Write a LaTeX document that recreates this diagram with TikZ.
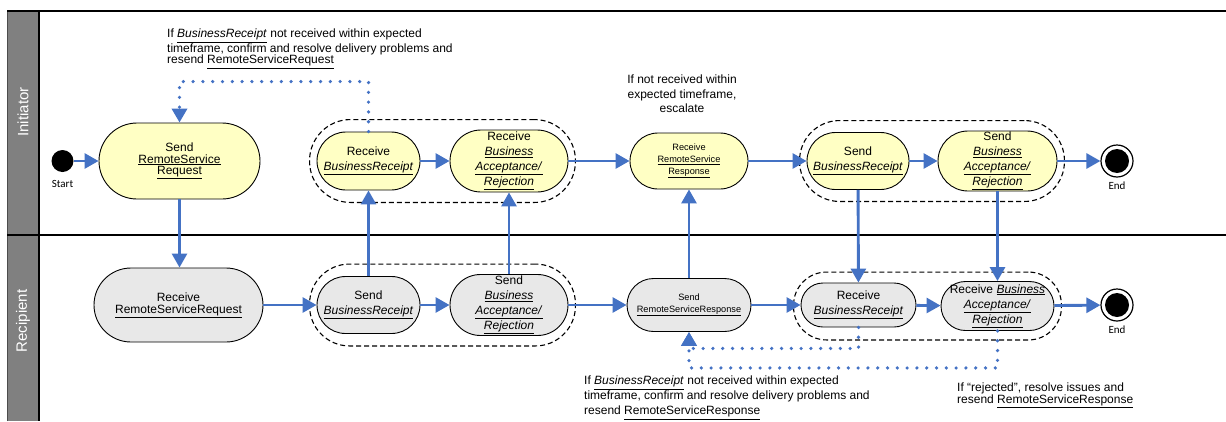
\documentclass[tikz,border=0pt]{standalone}
\usepackage{fontspec}
\setmainfont{Liberation Sans}
\newfontfamily\calfont{Carlito}
\usepackage{tikz}
\usetikzlibrary{arrows.meta}
\usetikzlibrary{fit}
\usepackage{xcolor}
\definecolor{flowblue}{HTML}{4472C4}
\definecolor{actyellow}{HTML}{FFFFC4}
\definecolor{actgray}{HTML}{E8E8E8}
\definecolor{lanegray}{HTML}{808080}
\newcommand{\actfont}{\fontsize{12}{15}\selectfont}
\newcommand{\reqfont}{\fontsize{12}{11.5}\selectfont}
\newcommand{\rspfont}{\fontsize{9.2}{12}\selectfont}
\newcommand{\ul}[1]{\underline{#1}}
\newcommand{\uli}[1]{\underline{\textit{#1}}}

\begin{document}
\begin{tikzpicture}[x=1pt, y=-1pt,
	act/.style 2 args={rectangle, draw=black, line width=0.9pt, minimum width=#1, minimum height=#2, rounded corners=#2/2, inner sep=0pt, align=center, font=\actfont},
	init/.style={fill=actyellow},
	recp/.style={fill=actgray},
	grp/.style={draw=black, line width=1.1pt, dash pattern=on 5pt off 3pt, inner xsep=7pt, inner ysep=10pt},
	flow/.style={draw=flowblue, line width=2.9pt, -{Triangle[length=14pt,width=15pt]}},
	dotflow/.style={draw=flowblue, line width=3.6pt, line cap=round, dash pattern=on 0pt off 9.8pt, -{Triangle[length=14pt,width=15pt]}},
	note/.style={align=left, inner sep=0pt, font=\fontsize{12}{11.8}\selectfont},
	lanelabel/.style={rotate=90, text=white, font=\fontsize{15}{15}\selectfont},
	tag/.style={font=\calfont\fontsize{11}{11}\selectfont, inner sep=1pt},
	startnode/.style={circle, fill=black, minimum size=22pt, inner sep=0pt},
	endnode/.style={circle, draw=black, line width=1.2pt, fill=white, minimum size=32pt, inner sep=0pt, path picture={\fill[black] (path picture bounding box.center) circle (12pt);}}]
	\useasboundingbox (0,0) rectangle (1226,421);
	\fill[lanegray] (7,11) rectangle (39,421);
	\draw[black!70, line width=1pt] (7,421) -- (7,11);
	\draw[black, line width=1.2pt] (7,11) -- (1226,11);
	\draw[black, line width=1.2pt] (7,235) -- (1226,235);
	\draw[black, line width=1.2pt] (39,11) -- (39,421);
	\node[lanelabel] (lanei) at (23,112) {Initiator};
	\node[lanelabel] (laner) at (23,321) {Recipient};

	\node[startnode, label={[tag, label distance=7pt]below:Start}] (start) at (62.5,161) {};
	\node[act={161pt}{76pt}, init, font=\reqfont] (sendreq) at (179.5,161) {Send\\\ul{RemoteService}\\\ul{Request}};
	\node[act={103pt}{58pt}, init] (rcvbr) at (368.5,161) {Receive\\\uli{BusinessReceipt}};
	\node[act={118pt}{62pt}, init] (rcvba) at (509,161) {Receive\\\uli{Business}\\\uli{Acceptance/}\\\uli{Rejection}};
	\node[act={118pt}{56pt}, init, font=\rspfont] (rcvresp) at (689,161) {Receive\\\ul{RemoteService}\\\ul{Response}};
	\node[act={102pt}{57pt}, init] (sndbr2) at (858,161) {Send\\\uli{BusinessReceipt}};
	\node[act={119pt}{60pt}, init] (sndba2) at (997.5,161) {Send\\\uli{Business}\\\uli{Acceptance/}\\\uli{Rejection}};
	\node[endnode, label={[tag, label distance=3pt]below:End}] (end1) at (1117,161) {};

	\node[act={169pt}{74pt}, recp, font=\fontsize{12}{12}\selectfont] (rcvreq) at (178.5,305) {Receive\\\ul{RemoteServiceRequest}};
	\node[act={103pt}{57pt}, recp] (sndbr) at (368.5,305) {Send\\\uli{BusinessReceipt}};
	\node[act={118pt}{61pt}, recp] (sndba) at (509,305) {Send\\\uli{Business}\\\uli{Acceptance/}\\\uli{Rejection}};
	\node[act={124pt}{53pt}, recp, font=\rspfont] (sndresp) at (689,305) {Send\\\ul{RemoteServiceResponse}};
	\node[act={115pt}{44pt}, recp] (rcvbr2) at (858.5,305) {Receive\\\uli{BusinessReceipt}};
	\node[act={113pt}{49pt}, recp] (rcvba2) at (997.5,306) {Receive \uli{Business}\\\uli{Acceptance/}\\\uli{Rejection}};
	\node[endnode, label={[tag, label distance=3pt]below:End}] (end2) at (1117,305) {};

	\node[grp, fit=(rcvbr)(rcvba), rounded corners=41pt] (grpa) {};
	\node[grp, fit=(sndbr)(sndba), rounded corners=40pt] (grpb) {};
	\node[grp, fit=(sndbr2)(sndba2), rounded corners=40pt] (grpc) {};
	\node[grp, fit=(rcvbr2)(rcvba2), inner ysep=9pt, rounded corners=33pt] (grpd) {};

	\node[note, anchor=north west] (notereq) at (167,29) {If \uli{BusinessReceipt} not received within expected\\timeframe, confirm and resolve delivery problems and\\resend \ul{RemoteServiceRequest}};
	\node[note, align=center, font=\fontsize{12}{14.5}\selectfont] (noteesc) at (682,94) {If not received within\\expected timeframe,\\escalate};
	\node[note, anchor=north west, font=\fontsize{12}{15}\selectfont] (noteresp) at (584,376) {If \uli{BusinessReceipt} not received within expected\\timeframe, confirm and resolve delivery problems and\\resend \ul{RemoteServiceResponse}};
	\node[note, anchor=north west] (noterej) at (957,383) {If ``rejected'', resolve issues and\\resend \ul{RemoteServiceResponse}};

	\draw[flow] (start) -- (sendreq);
	\draw[flow] (sendreq.south) -- (sendreq.south |- rcvreq.north);
	\draw[flow] (rcvreq) -- (sndbr);
	\draw[flow] (sndbr) -- (sndba);
	\draw[flow] (sndbr) -- (rcvbr);
	\draw[flow] (sndba) -- (rcvba);
	\draw[flow] (rcvbr) -- (rcvba);
	\draw[flow] (rcvba) -- (rcvresp);
	\draw[flow] (sndba) -- (sndresp);
	\draw[flow] (sndresp) -- (rcvresp);
	\draw[flow] (rcvresp) -- (sndbr2);
	\draw[flow] (sndbr2) -- (sndba2);
	\draw[flow] (sndba2) -- (end1);
	\draw[flow] (sndresp) -- (rcvbr2);
	\draw[flow] (sndbr2) -- (rcvbr2);
	\draw[flow] (sndba2) -- (rcvba2);
	\draw[flow] (rcvbr2) -- (rcvba2);
	\draw[flow] (rcvba2) -- (end2);

	\draw[dotflow] (rcvbr.north) -- ++(0,-50) -| (sendreq.north);
	\draw[dotflow] (rcvbr2.south) -- ++(0,21) -| (sndresp.south);
	\draw[dotflow] (rcvba2.south) -- ++(0,37) -| (sndresp.south);
\end{tikzpicture}
\end{document}
